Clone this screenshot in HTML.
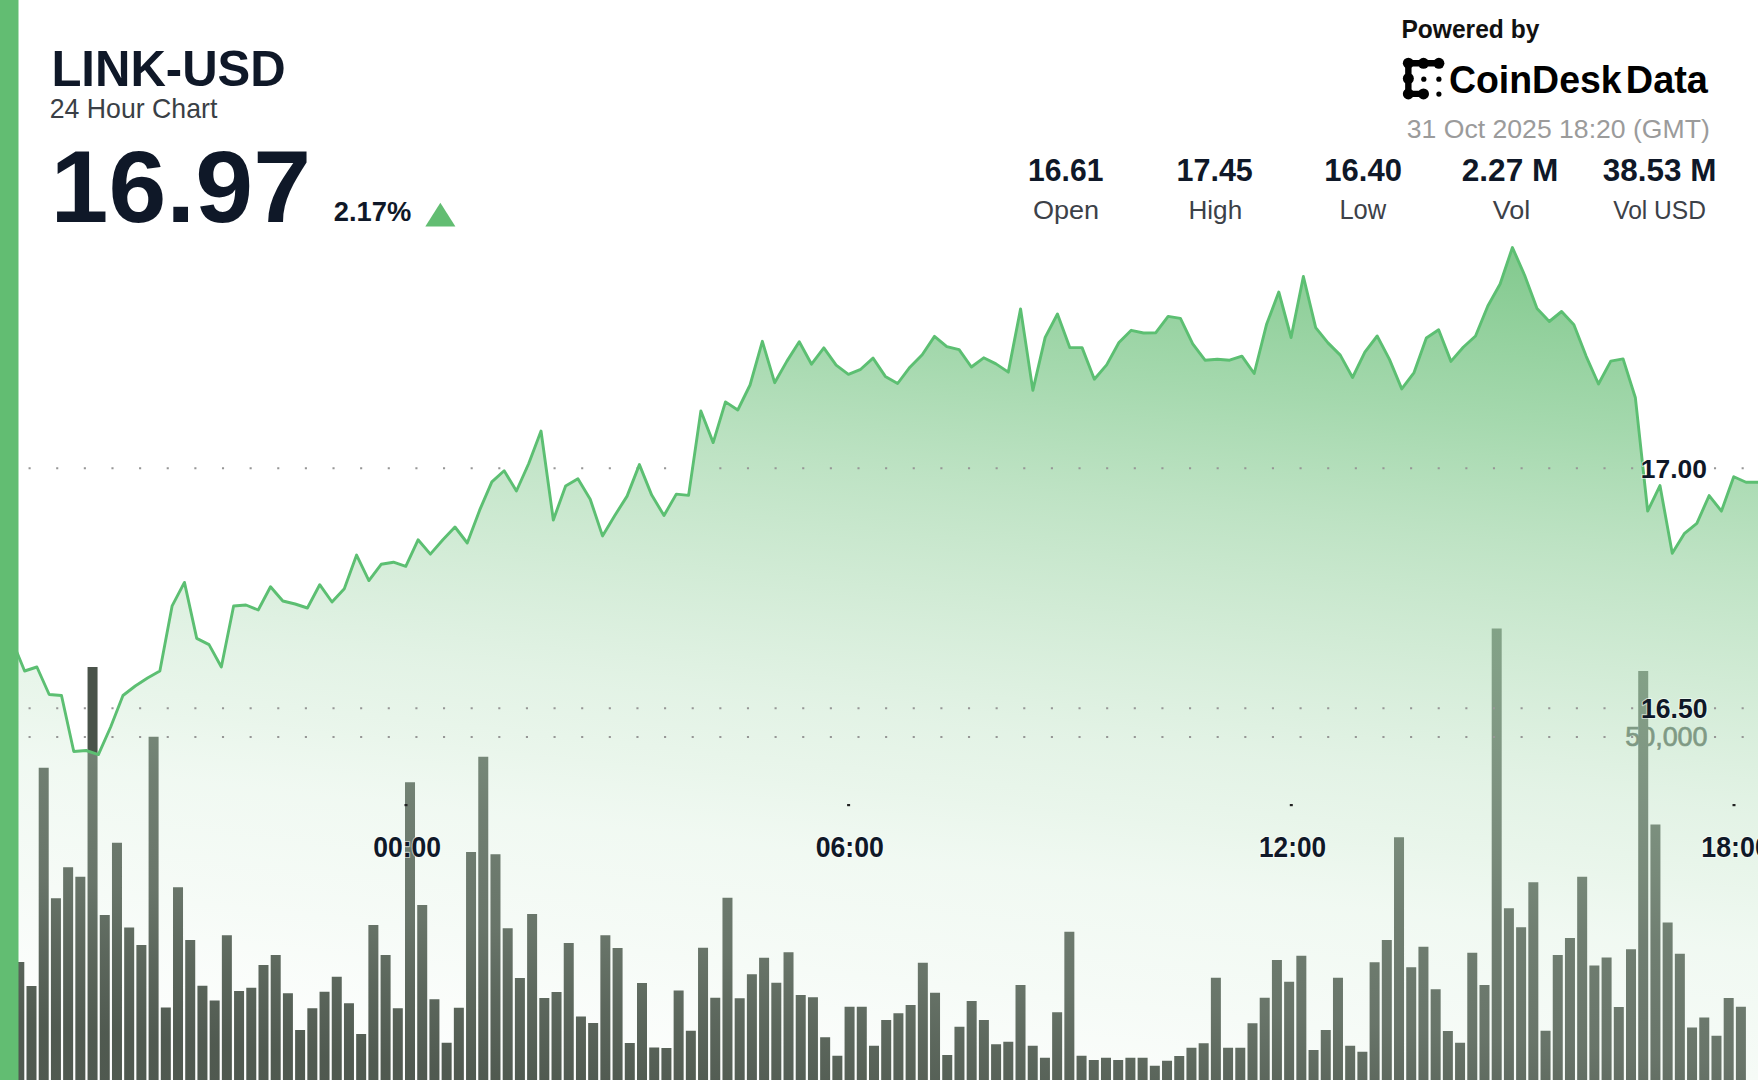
<!DOCTYPE html><html><head><meta charset="utf-8"><style>html,body{margin:0;padding:0;background:#fff;width:1758px;height:1080px;overflow:hidden}svg{display:block}text{font-family:"Liberation Sans",sans-serif}</style></head><body>
<svg width="1758" height="1080" viewBox="0 0 1758 1080">
<defs><linearGradient id="g" gradientUnits="userSpaceOnUse" x1="1500" y1="249" x2="1395.2" y2="1201.5">
<stop offset="0" stop-color="#5fba6e" stop-opacity="0.78"/>
<stop offset="0.177" stop-color="#85cb91" stop-opacity="0.74"/>
<stop offset="0.3" stop-color="#9cd4a5" stop-opacity="0.66"/>
<stop offset="0.43" stop-color="#afdcb6" stop-opacity="0.56"/>
<stop offset="0.554" stop-color="#bfe3c5" stop-opacity="0.44"/>
<stop offset="0.632" stop-color="#c5e6ca" stop-opacity="0.37"/>
<stop offset="0.7" stop-color="#cdead2" stop-opacity="0.29"/>
<stop offset="0.818" stop-color="#d4ecd8" stop-opacity="0.22"/>
<stop offset="0.889" stop-color="#d4ecd8" stop-opacity="0.13"/>
<stop offset="0.972" stop-color="#d4ecd8" stop-opacity="0.045"/>
<stop offset="1" stop-color="#d4ecd8" stop-opacity="0.04"/>
</linearGradient></defs>
<rect width="1758" height="1080" fill="#fff"/>
<text x="1625.22" y="746.0" font-size="27.24" font-weight="normal" fill="#46524a" textLength="82.32" lengthAdjust="spacingAndGlyphs" stroke="#46524a" stroke-width="0.7">50,000</text>
<path fill="#4a534a" d="M14.29 962h10V1080h-10zM26.5 986h10V1080h-10zM38.71 767.7h10V1080h-10zM50.92 898.3h10V1080h-10zM63.13 867.3h10V1080h-10zM75.34 876.7h10V1080h-10zM87.55 667h10V1080h-10zM99.76 915h10V1080h-10zM111.97 842.7h10V1080h-10zM124.18 927.4h10V1080h-10zM136.39 945h10V1080h-10zM148.6 736.7h10V1080h-10zM160.81 1007.4h10V1080h-10zM173.02 887.3h10V1080h-10zM185.23 940h10V1080h-10zM197.44 985.8h10V1080h-10zM209.65 1000.6h10V1080h-10zM221.86 935.2h10V1080h-10zM234.07 991h10V1080h-10zM246.28 987.7h10V1080h-10zM258.49 965h10V1080h-10zM270.7 955h10V1080h-10zM282.91 993.3h10V1080h-10zM295.12 1030h10V1080h-10zM307.33 1008.3h10V1080h-10zM319.54 991.7h10V1080h-10zM331.75 976.7h10V1080h-10zM343.96 1003.3h10V1080h-10zM356.17 1034h10V1080h-10zM368.38 925h10V1080h-10zM380.59 955h10V1080h-10zM392.8 1008.3h10V1080h-10zM405.01 782.3h10V1080h-10zM417.22 905h10V1080h-10zM429.43 999.3h10V1080h-10zM441.64 1042.7h10V1080h-10zM453.85 1007.7h10V1080h-10zM466.06 852h10V1080h-10zM478.27 756.7h10V1080h-10zM490.48 854.3h10V1080h-10zM502.69 928.3h10V1080h-10zM514.9 978h10V1080h-10zM527.11 914h10V1080h-10zM539.32 998h10V1080h-10zM551.53 992h10V1080h-10zM563.74 943h10V1080h-10zM575.95 1016.5h10V1080h-10zM588.16 1023h10V1080h-10zM600.37 935.2h10V1080h-10zM612.58 948h10V1080h-10zM624.79 1043h10V1080h-10zM637 983h10V1080h-10zM649.21 1047.5h10V1080h-10zM661.42 1048h10V1080h-10zM673.63 990.5h10V1080h-10zM685.84 1030.8h10V1080h-10zM698.05 947.7h10V1080h-10zM710.26 997.7h10V1080h-10zM722.47 897.7h10V1080h-10zM734.68 998.3h10V1080h-10zM746.89 974.3h10V1080h-10zM759.1 957.7h10V1080h-10zM771.31 982.7h10V1080h-10zM783.52 952.3h10V1080h-10zM795.73 995h10V1080h-10zM807.94 997.3h10V1080h-10zM820.15 1037.3h10V1080h-10zM832.36 1055.7h10V1080h-10zM844.57 1006.7h10V1080h-10zM856.78 1006.7h10V1080h-10zM868.99 1045.7h10V1080h-10zM881.2 1020h10V1080h-10zM893.41 1013.3h10V1080h-10zM905.62 1005h10V1080h-10zM917.83 962.7h10V1080h-10zM930.04 992.7h10V1080h-10zM942.25 1055h10V1080h-10zM954.46 1026.7h10V1080h-10zM966.67 1001h10V1080h-10zM978.88 1020h10V1080h-10zM991.09 1044.3h10V1080h-10zM1003.3 1041.7h10V1080h-10zM1015.51 985h10V1080h-10zM1027.72 1045.7h10V1080h-10zM1039.93 1057.7h10V1080h-10zM1052.14 1012.3h10V1080h-10zM1064.35 931.7h10V1080h-10zM1076.56 1055.7h10V1080h-10zM1088.77 1060h10V1080h-10zM1100.98 1057.7h10V1080h-10zM1113.19 1060h10V1080h-10zM1125.4 1057.7h10V1080h-10zM1137.61 1057.7h10V1080h-10zM1149.82 1065.7h10V1080h-10zM1162.03 1060.7h10V1080h-10zM1174.24 1056h10V1080h-10zM1186.45 1047.7h10V1080h-10zM1198.66 1043.3h10V1080h-10zM1210.87 977.7h10V1080h-10zM1223.08 1047.7h10V1080h-10zM1235.29 1047.7h10V1080h-10zM1247.5 1023.3h10V1080h-10zM1259.71 997.7h10V1080h-10zM1271.92 960h10V1080h-10zM1284.13 981.7h10V1080h-10zM1296.34 955.7h10V1080h-10zM1308.55 1050h10V1080h-10zM1320.76 1030h10V1080h-10zM1332.97 977.7h10V1080h-10zM1345.18 1045.7h10V1080h-10zM1357.39 1051.7h10V1080h-10zM1369.6 962.3h10V1080h-10zM1381.81 940h10V1080h-10zM1394.02 837.3h10V1080h-10zM1406.23 967.3h10V1080h-10zM1418.44 946.7h10V1080h-10zM1430.65 989.3h10V1080h-10zM1442.86 1031h10V1080h-10zM1455.07 1042.7h10V1080h-10zM1467.28 952.7h10V1080h-10zM1479.49 985h10V1080h-10zM1491.7 628.4h10V1080h-10zM1503.91 908.3h10V1080h-10zM1516.12 927.3h10V1080h-10zM1528.33 882.3h10V1080h-10zM1540.54 1030.8h10V1080h-10zM1552.75 955h10V1080h-10zM1564.96 938h10V1080h-10zM1577.17 876.7h10V1080h-10zM1589.38 965.5h10V1080h-10zM1601.59 957.5h10V1080h-10zM1613.8 1007h10V1080h-10zM1626.01 949.2h10V1080h-10zM1638.22 671.1h10V1080h-10zM1650.43 824.4h10V1080h-10zM1662.64 922.5h10V1080h-10zM1674.85 953.7h10V1080h-10zM1687.06 1027.5h10V1080h-10zM1699.27 1017.5h10V1080h-10zM1711.48 1035.8h10V1080h-10zM1723.69 998h10V1080h-10zM1735.9 1006.7h10V1080h-10z"/>
<path fill="url(#g)" d="M12.3 641 L24.6 671 L36.9 667 L49.19 694.5 L61.49 695.5 L73.78 751.5 L86.08 750.5 L98.38 754.6 L110.67 727 L122.97 695.5 L135.26 686 L147.56 678 L159.86 671 L172.15 605.8 L184.45 582.4 L196.74 638.4 L209.04 644.6 L221.34 667 L233.63 606 L245.93 605 L258.22 610 L270.52 586.7 L282.82 601 L295.11 604 L307.41 608 L319.7 584.7 L332 602 L344.3 588.7 L356.59 555.1 L368.89 580.6 L381.18 564.3 L393.48 562.2 L405.78 566.3 L418.07 539.8 L430.37 554.1 L442.66 540 L454.96 527 L467.26 543 L479.55 510.4 L491.85 481.9 L504.14 470.7 L516.44 491 L528.74 463.5 L541.03 431 L553.33 520 L565.62 486 L577.92 478.8 L590.22 499.2 L602.51 535.9 L614.81 515.5 L627.1 496.1 L639.4 464.6 L651.7 495.1 L663.99 515.5 L676.29 494.1 L688.58 495.4 L700.88 411 L713.18 442.6 L725.47 401.9 L737.77 410 L750.06 385 L762.36 341.3 L774.66 382.7 L786.95 361.1 L799.25 341.8 L811.54 364.2 L823.84 347.9 L836.14 365.2 L848.43 374.4 L860.73 369.3 L873.02 358.1 L885.32 376.4 L897.62 383.5 L909.91 367.2 L922.21 354.7 L934.5 336.4 L946.8 346.6 L959.1 349.6 L971.39 367 L983.69 357.8 L995.98 363.9 L1008.28 372.1 L1020.58 308.9 L1032.87 390.4 L1045.17 337.4 L1057.46 314 L1069.76 347.6 L1082.06 347.6 L1094.35 379.2 L1106.65 364.9 L1118.94 342.5 L1131.24 330.3 L1143.54 333 L1155.83 332.7 L1168.13 316.4 L1180.42 318.4 L1192.72 343.9 L1205.02 360.2 L1217.31 359.2 L1229.61 360.2 L1241.9 356.1 L1254.2 373.5 L1266.5 324.6 L1278.79 292 L1291.09 337.5 L1303.38 276.5 L1315.68 327.6 L1327.98 342.9 L1340.27 355.1 L1352.57 377.5 L1364.86 352.1 L1377.16 336 L1389.46 359.4 L1401.75 388.9 L1414.05 372.6 L1426.34 338 L1438.64 329.8 L1450.94 361.4 L1463.23 347.2 L1475.53 336 L1487.82 306 L1500.12 284 L1512.42 247.5 L1524.71 275.5 L1537.01 308.4 L1549.3 321.5 L1561.6 311.5 L1573.9 324.7 L1586.19 356.3 L1598.49 384 L1610.78 361.1 L1623.08 358.9 L1635.38 397.8 L1647.67 511.1 L1659.97 485.6 L1672.26 553.3 L1684.56 533.3 L1696.86 523.3 L1709.15 495.6 L1721.45 511.1 L1733.74 476.7 L1746.04 482.2 L1758.34 482.2 L1758.34 1080 L12.3 1080 Z"/>
<path fill="#969696" d="M28.55 467.15h2.1v2.1h-2.1zM56.18 467.15h2.1v2.1h-2.1zM83.81 467.15h2.1v2.1h-2.1zM111.44 467.15h2.1v2.1h-2.1zM139.07 467.15h2.1v2.1h-2.1zM166.7 467.15h2.1v2.1h-2.1zM194.33 467.15h2.1v2.1h-2.1zM221.96 467.15h2.1v2.1h-2.1zM249.59 467.15h2.1v2.1h-2.1zM277.22 467.15h2.1v2.1h-2.1zM304.85 467.15h2.1v2.1h-2.1zM332.48 467.15h2.1v2.1h-2.1zM360.11 467.15h2.1v2.1h-2.1zM387.74 467.15h2.1v2.1h-2.1zM415.37 467.15h2.1v2.1h-2.1zM443 467.15h2.1v2.1h-2.1zM470.63 467.15h2.1v2.1h-2.1zM498.26 467.15h2.1v2.1h-2.1zM525.89 467.15h2.1v2.1h-2.1zM553.52 467.15h2.1v2.1h-2.1zM581.15 467.15h2.1v2.1h-2.1zM608.78 467.15h2.1v2.1h-2.1zM636.41 467.15h2.1v2.1h-2.1zM664.04 467.15h2.1v2.1h-2.1zM691.67 467.15h2.1v2.1h-2.1zM719.3 467.15h2.1v2.1h-2.1zM746.93 467.15h2.1v2.1h-2.1zM774.56 467.15h2.1v2.1h-2.1zM802.19 467.15h2.1v2.1h-2.1zM829.82 467.15h2.1v2.1h-2.1zM857.45 467.15h2.1v2.1h-2.1zM885.08 467.15h2.1v2.1h-2.1zM912.71 467.15h2.1v2.1h-2.1zM940.34 467.15h2.1v2.1h-2.1zM967.97 467.15h2.1v2.1h-2.1zM995.6 467.15h2.1v2.1h-2.1zM1023.23 467.15h2.1v2.1h-2.1zM1050.86 467.15h2.1v2.1h-2.1zM1078.49 467.15h2.1v2.1h-2.1zM1106.12 467.15h2.1v2.1h-2.1zM1133.75 467.15h2.1v2.1h-2.1zM1161.38 467.15h2.1v2.1h-2.1zM1189.01 467.15h2.1v2.1h-2.1zM1216.64 467.15h2.1v2.1h-2.1zM1244.27 467.15h2.1v2.1h-2.1zM1271.9 467.15h2.1v2.1h-2.1zM1299.53 467.15h2.1v2.1h-2.1zM1327.16 467.15h2.1v2.1h-2.1zM1354.79 467.15h2.1v2.1h-2.1zM1382.42 467.15h2.1v2.1h-2.1zM1410.05 467.15h2.1v2.1h-2.1zM1437.68 467.15h2.1v2.1h-2.1zM1465.31 467.15h2.1v2.1h-2.1zM1492.94 467.15h2.1v2.1h-2.1zM1520.57 467.15h2.1v2.1h-2.1zM1548.2 467.15h2.1v2.1h-2.1zM1575.83 467.15h2.1v2.1h-2.1zM1603.46 467.15h2.1v2.1h-2.1zM1631.09 467.15h2.1v2.1h-2.1zM1713.98 467.15h2.1v2.1h-2.1zM1741.61 467.15h2.1v2.1h-2.1zM28.55 707.15h2.1v2.1h-2.1zM56.18 707.15h2.1v2.1h-2.1zM83.81 707.15h2.1v2.1h-2.1zM111.44 707.15h2.1v2.1h-2.1zM139.07 707.15h2.1v2.1h-2.1zM166.7 707.15h2.1v2.1h-2.1zM194.33 707.15h2.1v2.1h-2.1zM221.96 707.15h2.1v2.1h-2.1zM249.59 707.15h2.1v2.1h-2.1zM277.22 707.15h2.1v2.1h-2.1zM304.85 707.15h2.1v2.1h-2.1zM332.48 707.15h2.1v2.1h-2.1zM360.11 707.15h2.1v2.1h-2.1zM387.74 707.15h2.1v2.1h-2.1zM415.37 707.15h2.1v2.1h-2.1zM443 707.15h2.1v2.1h-2.1zM470.63 707.15h2.1v2.1h-2.1zM498.26 707.15h2.1v2.1h-2.1zM525.89 707.15h2.1v2.1h-2.1zM553.52 707.15h2.1v2.1h-2.1zM581.15 707.15h2.1v2.1h-2.1zM608.78 707.15h2.1v2.1h-2.1zM636.41 707.15h2.1v2.1h-2.1zM664.04 707.15h2.1v2.1h-2.1zM691.67 707.15h2.1v2.1h-2.1zM719.3 707.15h2.1v2.1h-2.1zM746.93 707.15h2.1v2.1h-2.1zM774.56 707.15h2.1v2.1h-2.1zM802.19 707.15h2.1v2.1h-2.1zM829.82 707.15h2.1v2.1h-2.1zM857.45 707.15h2.1v2.1h-2.1zM885.08 707.15h2.1v2.1h-2.1zM912.71 707.15h2.1v2.1h-2.1zM940.34 707.15h2.1v2.1h-2.1zM967.97 707.15h2.1v2.1h-2.1zM995.6 707.15h2.1v2.1h-2.1zM1023.23 707.15h2.1v2.1h-2.1zM1050.86 707.15h2.1v2.1h-2.1zM1078.49 707.15h2.1v2.1h-2.1zM1106.12 707.15h2.1v2.1h-2.1zM1133.75 707.15h2.1v2.1h-2.1zM1161.38 707.15h2.1v2.1h-2.1zM1189.01 707.15h2.1v2.1h-2.1zM1216.64 707.15h2.1v2.1h-2.1zM1244.27 707.15h2.1v2.1h-2.1zM1271.9 707.15h2.1v2.1h-2.1zM1299.53 707.15h2.1v2.1h-2.1zM1327.16 707.15h2.1v2.1h-2.1zM1354.79 707.15h2.1v2.1h-2.1zM1382.42 707.15h2.1v2.1h-2.1zM1410.05 707.15h2.1v2.1h-2.1zM1437.68 707.15h2.1v2.1h-2.1zM1465.31 707.15h2.1v2.1h-2.1zM1492.94 707.15h2.1v2.1h-2.1zM1520.57 707.15h2.1v2.1h-2.1zM1548.2 707.15h2.1v2.1h-2.1zM1575.83 707.15h2.1v2.1h-2.1zM1603.46 707.15h2.1v2.1h-2.1zM1631.09 707.15h2.1v2.1h-2.1zM1713.98 707.15h2.1v2.1h-2.1zM1741.61 707.15h2.1v2.1h-2.1zM28.55 735.95h2.1v2.1h-2.1zM56.18 735.95h2.1v2.1h-2.1zM83.81 735.95h2.1v2.1h-2.1zM111.44 735.95h2.1v2.1h-2.1zM139.07 735.95h2.1v2.1h-2.1zM166.7 735.95h2.1v2.1h-2.1zM194.33 735.95h2.1v2.1h-2.1zM221.96 735.95h2.1v2.1h-2.1zM249.59 735.95h2.1v2.1h-2.1zM277.22 735.95h2.1v2.1h-2.1zM304.85 735.95h2.1v2.1h-2.1zM332.48 735.95h2.1v2.1h-2.1zM360.11 735.95h2.1v2.1h-2.1zM387.74 735.95h2.1v2.1h-2.1zM415.37 735.95h2.1v2.1h-2.1zM443 735.95h2.1v2.1h-2.1zM470.63 735.95h2.1v2.1h-2.1zM498.26 735.95h2.1v2.1h-2.1zM525.89 735.95h2.1v2.1h-2.1zM553.52 735.95h2.1v2.1h-2.1zM581.15 735.95h2.1v2.1h-2.1zM608.78 735.95h2.1v2.1h-2.1zM636.41 735.95h2.1v2.1h-2.1zM664.04 735.95h2.1v2.1h-2.1zM691.67 735.95h2.1v2.1h-2.1zM719.3 735.95h2.1v2.1h-2.1zM746.93 735.95h2.1v2.1h-2.1zM774.56 735.95h2.1v2.1h-2.1zM802.19 735.95h2.1v2.1h-2.1zM829.82 735.95h2.1v2.1h-2.1zM857.45 735.95h2.1v2.1h-2.1zM885.08 735.95h2.1v2.1h-2.1zM912.71 735.95h2.1v2.1h-2.1zM940.34 735.95h2.1v2.1h-2.1zM967.97 735.95h2.1v2.1h-2.1zM995.6 735.95h2.1v2.1h-2.1zM1023.23 735.95h2.1v2.1h-2.1zM1050.86 735.95h2.1v2.1h-2.1zM1078.49 735.95h2.1v2.1h-2.1zM1106.12 735.95h2.1v2.1h-2.1zM1133.75 735.95h2.1v2.1h-2.1zM1161.38 735.95h2.1v2.1h-2.1zM1189.01 735.95h2.1v2.1h-2.1zM1216.64 735.95h2.1v2.1h-2.1zM1244.27 735.95h2.1v2.1h-2.1zM1271.9 735.95h2.1v2.1h-2.1zM1299.53 735.95h2.1v2.1h-2.1zM1327.16 735.95h2.1v2.1h-2.1zM1354.79 735.95h2.1v2.1h-2.1zM1382.42 735.95h2.1v2.1h-2.1zM1410.05 735.95h2.1v2.1h-2.1zM1437.68 735.95h2.1v2.1h-2.1zM1465.31 735.95h2.1v2.1h-2.1zM1492.94 735.95h2.1v2.1h-2.1zM1520.57 735.95h2.1v2.1h-2.1zM1548.2 735.95h2.1v2.1h-2.1zM1575.83 735.95h2.1v2.1h-2.1zM1603.46 735.95h2.1v2.1h-2.1zM1631.09 735.95h2.1v2.1h-2.1zM1713.98 735.95h2.1v2.1h-2.1zM1741.61 735.95h2.1v2.1h-2.1z"/>
<path fill="none" stroke="#5cbf72" stroke-width="2.9" stroke-linejoin="round" d="M12.3 641 L24.6 671 L36.9 667 L49.19 694.5 L61.49 695.5 L73.78 751.5 L86.08 750.5 L98.38 754.6 L110.67 727 L122.97 695.5 L135.26 686 L147.56 678 L159.86 671 L172.15 605.8 L184.45 582.4 L196.74 638.4 L209.04 644.6 L221.34 667 L233.63 606 L245.93 605 L258.22 610 L270.52 586.7 L282.82 601 L295.11 604 L307.41 608 L319.7 584.7 L332 602 L344.3 588.7 L356.59 555.1 L368.89 580.6 L381.18 564.3 L393.48 562.2 L405.78 566.3 L418.07 539.8 L430.37 554.1 L442.66 540 L454.96 527 L467.26 543 L479.55 510.4 L491.85 481.9 L504.14 470.7 L516.44 491 L528.74 463.5 L541.03 431 L553.33 520 L565.62 486 L577.92 478.8 L590.22 499.2 L602.51 535.9 L614.81 515.5 L627.1 496.1 L639.4 464.6 L651.7 495.1 L663.99 515.5 L676.29 494.1 L688.58 495.4 L700.88 411 L713.18 442.6 L725.47 401.9 L737.77 410 L750.06 385 L762.36 341.3 L774.66 382.7 L786.95 361.1 L799.25 341.8 L811.54 364.2 L823.84 347.9 L836.14 365.2 L848.43 374.4 L860.73 369.3 L873.02 358.1 L885.32 376.4 L897.62 383.5 L909.91 367.2 L922.21 354.7 L934.5 336.4 L946.8 346.6 L959.1 349.6 L971.39 367 L983.69 357.8 L995.98 363.9 L1008.28 372.1 L1020.58 308.9 L1032.87 390.4 L1045.17 337.4 L1057.46 314 L1069.76 347.6 L1082.06 347.6 L1094.35 379.2 L1106.65 364.9 L1118.94 342.5 L1131.24 330.3 L1143.54 333 L1155.83 332.7 L1168.13 316.4 L1180.42 318.4 L1192.72 343.9 L1205.02 360.2 L1217.31 359.2 L1229.61 360.2 L1241.9 356.1 L1254.2 373.5 L1266.5 324.6 L1278.79 292 L1291.09 337.5 L1303.38 276.5 L1315.68 327.6 L1327.98 342.9 L1340.27 355.1 L1352.57 377.5 L1364.86 352.1 L1377.16 336 L1389.46 359.4 L1401.75 388.9 L1414.05 372.6 L1426.34 338 L1438.64 329.8 L1450.94 361.4 L1463.23 347.2 L1475.53 336 L1487.82 306 L1500.12 284 L1512.42 247.5 L1524.71 275.5 L1537.01 308.4 L1549.3 321.5 L1561.6 311.5 L1573.9 324.7 L1586.19 356.3 L1598.49 384 L1610.78 361.1 L1623.08 358.9 L1635.38 397.8 L1647.67 511.1 L1659.97 485.6 L1672.26 553.3 L1684.56 533.3 L1696.86 523.3 L1709.15 495.6 L1721.45 511.1 L1733.74 476.7 L1746.04 482.2 L1758.34 482.2"/>
<rect x="0" y="0" width="18.5" height="1080" fill="#62bd72"/>
<rect x="404.5" y="804" width="3" height="2.2" fill="#222"/>
<rect x="847.1" y="804" width="3" height="2.2" fill="#222"/>
<rect x="1289.8" y="804" width="3" height="2.2" fill="#222"/>
<rect x="1732.5" y="804" width="3" height="2.2" fill="#222"/>
<text x="1640.75" y="478.0" font-size="26.52" font-weight="bold" fill="#0f1828" textLength="66.11" lengthAdjust="spacingAndGlyphs" stroke="#ffffff" stroke-opacity="0.55" stroke-width="2.2" paint-order="stroke" stroke-linejoin="round">17.00</text>
<text x="1641.04" y="718.3" font-size="27.67" font-weight="bold" fill="#0f1828" textLength="66.53" lengthAdjust="spacingAndGlyphs" stroke="#ffffff" stroke-opacity="0.55" stroke-width="2.2" paint-order="stroke" stroke-linejoin="round">16.50</text>
<text x="373.24" y="857.0" font-size="29.1" font-weight="bold" fill="#0f1828" textLength="67.83" lengthAdjust="spacingAndGlyphs" stroke="#ffffff" stroke-opacity="0.55" stroke-width="2.2" paint-order="stroke" stroke-linejoin="round">00:00</text>
<text x="815.63" y="857.0" font-size="29.1" font-weight="bold" fill="#0f1828" textLength="68.14" lengthAdjust="spacingAndGlyphs" stroke="#ffffff" stroke-opacity="0.55" stroke-width="2.2" paint-order="stroke" stroke-linejoin="round">06:00</text>
<text x="1259.06" y="857.0" font-size="29.1" font-weight="bold" fill="#0f1828" textLength="66.99" lengthAdjust="spacingAndGlyphs" stroke="#ffffff" stroke-opacity="0.55" stroke-width="2.2" paint-order="stroke" stroke-linejoin="round">12:00</text>
<text x="1701.33" y="857.0" font-size="29.1" font-weight="bold" fill="#0f1828" textLength="68.45" lengthAdjust="spacingAndGlyphs" stroke="#ffffff" stroke-opacity="0.55" stroke-width="2.2" paint-order="stroke" stroke-linejoin="round">18:00</text>
<text x="51.39" y="85.7" font-size="50.18" font-weight="bold" fill="#0f1828" textLength="234.39" lengthAdjust="spacingAndGlyphs">LINK-USD</text>
<text x="49.77" y="118.4" font-size="27.03" font-weight="normal" fill="#3a3f46" textLength="167.56" lengthAdjust="spacingAndGlyphs">24 Hour Chart</text>
<text x="50.6" y="221.7" font-size="101.65" font-weight="bold" fill="#0f1828" textLength="260.43" lengthAdjust="spacingAndGlyphs">16.97</text>
<text x="333.84" y="221.0" font-size="26.95" font-weight="bold" fill="#0f1828" textLength="77.45" lengthAdjust="spacingAndGlyphs">2.17%</text>
<path d="M425.3 226.6 L455.4 226.6 L440.35 202.7 Z" fill="#62bd72"/>
<text x="1401.44" y="37.8" font-size="25.38" font-weight="bold" fill="#111" textLength="137.89" lengthAdjust="spacingAndGlyphs">Powered by</text>
<text x="1448.9" y="92.6" font-size="38.6" font-weight="bold" fill="#000" textLength="172.8" lengthAdjust="spacingAndGlyphs">CoinDesk</text>
<text x="1625.84" y="92.6" font-size="38.6" font-weight="bold" fill="#000" textLength="82.07" lengthAdjust="spacingAndGlyphs">Data</text>
<text x="1406.8" y="138.2" font-size="26.62" font-weight="normal" fill="#9b9b9b" textLength="302.98" lengthAdjust="spacingAndGlyphs">31 Oct 2025 18:20 (GMT)</text>
<text x="1028.12" y="181.2" font-size="30.82" font-weight="bold" fill="#0f1828" textLength="75.31" lengthAdjust="spacingAndGlyphs">16.61</text>
<text x="1176.49" y="181.2" font-size="31.27" font-weight="bold" fill="#0f1828" textLength="76.35" lengthAdjust="spacingAndGlyphs">17.45</text>
<text x="1324.36" y="181.2" font-size="30.82" font-weight="bold" fill="#0f1828" textLength="77.58" lengthAdjust="spacingAndGlyphs">16.40</text>
<text x="1461.69" y="181.2" font-size="30.82" font-weight="bold" fill="#0f1828" textLength="96.65" lengthAdjust="spacingAndGlyphs">2.27 M</text>
<text x="1602.89" y="181.2" font-size="30.82" font-weight="bold" fill="#0f1828" textLength="113.48" lengthAdjust="spacingAndGlyphs">38.53 M</text>
<text x="1032.91" y="218.7" font-size="26.67" font-weight="normal" fill="#3c4148" textLength="66.21" lengthAdjust="spacingAndGlyphs">Open</text>
<text x="1188.44" y="218.7" font-size="25.66" font-weight="normal" fill="#3c4148" textLength="53.73" lengthAdjust="spacingAndGlyphs">High</text>
<text x="1339.39" y="218.7" font-size="27.05" font-weight="normal" fill="#3c4148" textLength="46.83" lengthAdjust="spacingAndGlyphs">Low</text>
<text x="1492.77" y="218.7" font-size="25.66" font-weight="normal" fill="#3c4148" textLength="37.46" lengthAdjust="spacingAndGlyphs">Vol</text>
<text x="1613.18" y="218.7" font-size="25.66" font-weight="normal" fill="#3c4148" textLength="92.67" lengthAdjust="spacingAndGlyphs">Vol USD</text>
<g fill="#000"><circle cx="1408.35" cy="63.2" r="5.5"/><circle cx="1423.5" cy="63.3" r="5.5"/><circle cx="1438.9" cy="63.3" r="5.5"/><circle cx="1408.35" cy="78.5" r="5.5"/><circle cx="1408.35" cy="93.9" r="5.5"/><circle cx="1423.5" cy="93.9" r="5.5"/><circle cx="1423.8" cy="79.2" r="2.6"/><circle cx="1438.9" cy="79.2" r="2.6"/><circle cx="1438.9" cy="94.1" r="2.6"/><path d="M1408.35 63.3H1438.9M1408.35 63.3V93.9H1423.5" stroke="#000" stroke-width="6.4" fill="none"/></g>
</svg></body></html>
